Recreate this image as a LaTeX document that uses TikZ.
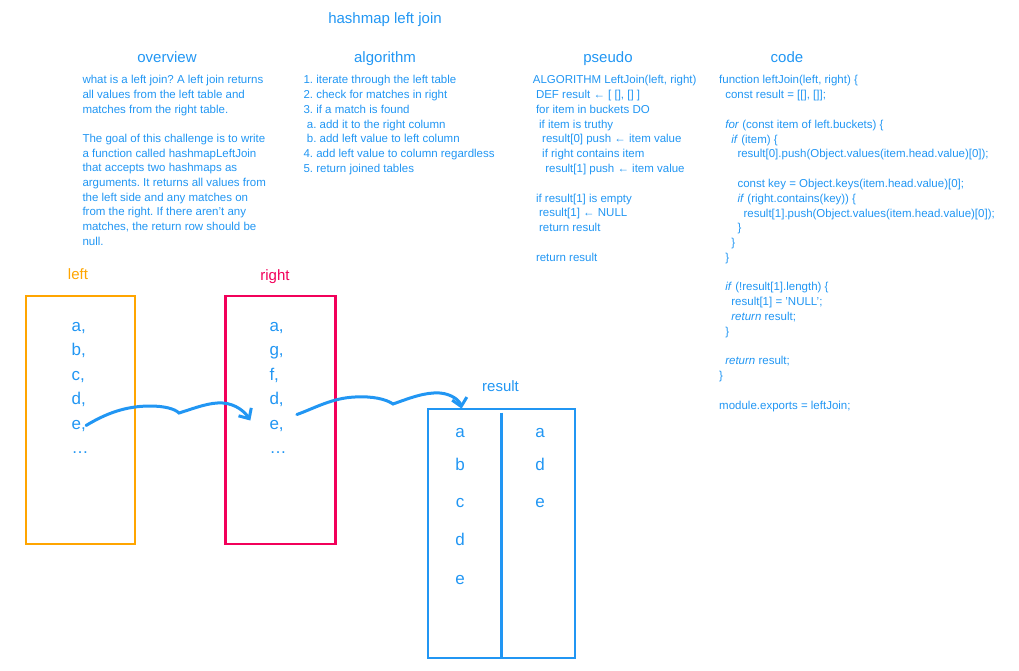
\documentclass[tikz,border=0pt]{standalone}
\usepackage{fontspec}
\setmainfont{Liberation Sans}
\usetikzlibrary{positioning,calc,arrows.meta}
\definecolor{jblue}{HTML}{2196F3}
\definecolor{jorange}{HTML}{FFA500}
\definecolor{jred}{HTML}{F2005A}
\frenchspacing
\tikzset{
  head/.style={font=\fontsize{15}{18}\selectfont, text=jblue, anchor=base, inner sep=0pt},
  txt/.style={font=\fontsize{11.5}{14}\selectfont, text=jblue, anchor=base west, inner sep=0pt},
  big/.style={font=\fontsize{17}{20}\selectfont, text=jblue, anchor=base west, inner sep=0pt},
  lab/.style={font=\fontsize{15}{18}\selectfont, text=#1, anchor=base, inner sep=0pt},
  hbox/.style={draw=#1, line width=2.8pt, minimum height=248, inner sep=0pt},
  wiggle/.style={draw=jblue, line width=3pt, line cap=round, -{Straight Barb[length=8pt,width=15pt]}}
}
\begin{document}
\begin{tikzpicture}[x=1pt,y=-1pt]
  \useasboundingbox (0,0) rectangle (1019,671);
  \node[head] (title) at (385,24) {hashmap left join};
  \foreach \name/\xpos in {overview/167, algorithm/385, pseudo/608, code/787} {
    \node[head] (h-\name) at (\xpos,62.7) {\name};
  }
  \foreach \txt [count=\i from 0] in {{what is a left join? A left join returns},
      {all values from the left table and}, {matches from the right table.}, {},
      {The goal of this challenge is to write}, {a function called hashmapLeftJoin},
      {that accepts two hashmaps as}, {arguments. It returns all values from},
      {the left side and any matches on}, {from the right. If there aren't any},
      {matches, the return row should be}, {null.}} {
    \node[txt] (ov\i) at (82.3,84+14.65*\i) {\txt};
  }
  \foreach \ind/\txt [count=\i from 0] in {0/{1. iterate through the left table},
      0/{2. check for matches in right}, 0/{3. if a match is found},
      1/{a. add it to the right column}, 1/{b. add left value to left column},
      0/{4. add left value to column regardless}, 0/{5. return joined tables}} {
    \node[txt] (al\i) at (303.3+3.4*\ind,84+14.7*\i) {\txt};
  }
  \foreach \ind/\txt [count=\i from 0] in {0/{ALGORITHM LeftJoin(left, right)},
      1/{DEF result ← [ [], [] ]}, 1/{for item in buckets DO}, 2/{if item is truthy},
      3/{result[0] push ← item value}, 3/{if right contains item},
      4/{result[1] push ← item value}, 0/{}, 1/{if result[1] is empty},
      2/{result[1] ← NULL}, 2/{return result}, 0/{}, 1/{return result}} {
    \node[txt] (ps\i) at (532.7+3.1*\ind,84+14.75*\i) {\txt};
  }
  \foreach \ind/\txt [count=\i from 0] in {0/{function leftJoin(left, right) \{},
      1/{const result = [[], []];}, 0/{},
      1/{\textit{for} (const item of left.buckets) \{}, 2/{\textit{if} (item) \{},
      3/{result[0].push(Object.values(item.head.value)[0]);}, 0/{},
      3/{const key = Object.keys(item.head.value)[0];},
      3/{\textit{if} (right.contains(key)) \{},
      4/{result[1].push(Object.values(item.head.value)[0]);}, 3/{\}}, 2/{\}}, 1/{\}},
      0/{}, 1/{\textit{if} (!result[1].length) \{}, 2/{result[1] = 'NULL';},
      2/{\textit{return} result;}, 1/{\}}, 0/{}, 1/{\textit{return} result;}, 0/{\}},
      0/{}, 0/{module.exports = leftJoin;}} {
    \node[txt] (cd\i) at (719+6.1*\ind,84+14.78*\i) {\txt};
  }

  \node[hbox=jorange, minimum width=109] (lbox) at (80.5,420) {};
  \node[hbox=jred, minimum width=109.5] (rbox) at (280.5,420) {};
  \node[hbox=jblue, minimum width=147, minimum height=249] (res) at (501.5,533.5) {};
  \draw[jblue, line width=2.8pt] ([yshift=-5pt]res.north) -- (res.south);
  \node[lab=jorange] at ([xshift=-2.5pt,yshift=15.3pt]lbox.north) {left};
  \node[lab=jred] at ([xshift=-5.5pt,yshift=13.7pt]rbox.north) {right};
  \node[lab=jblue] at ([xshift=-1pt,yshift=15.7pt]res.north) {result};

  \foreach \letter [count=\i from 0] in {{a,},{b,},{c,},{d,},{e,},{\ldots}} {
    \node[big] (l\i) at (71.5,331+24.5*\i) {\letter};
  }
  \foreach \letter [count=\i from 0] in {{a,},{g,},{f,},{d,},{e,},{\ldots}} {
    \node[big] (r\i) at (269.3,331+24.5*\i) {\letter};
  }
  \foreach \letter/\yb in {a/437, b/470, c/507.5, d/545.5, e/584} {
    \node[big, anchor=base] (rl\letter) at (460,\yb) {\letter};
  }
  \foreach \letter/\yb in {a/437, d/470.5, e/507} {
    \node[big, anchor=base] (rr\letter) at (540,\yb) {\letter};
  }

  \coordinate (tip1) at ($(r4.west)+(-19,-5)$);
  \coordinate (out2) at ($(r4.east)+(13,-11)$);
  \coordinate (tip2) at ($(res.north west)+(35,1)$);
  \draw[wiggle] (l4.east) .. controls (105,414) and (125,406) .. (150,406)
    .. controls (165,406) and (175,409) .. (179,413)
    .. controls (195,408) and (210,402) .. (223,403)
    .. controls (236,404) and (245,412) .. (tip1);
  \draw[wiggle] (out2) .. controls (315,408) and (332,398) .. (355,397)
    .. controls (372,396) and (386,399) .. (393,404)
    .. controls (410,398) and (425,392) .. (440,393)
    .. controls (452,394) and (460,401) .. (tip2);
\end{tikzpicture}
\end{document}
